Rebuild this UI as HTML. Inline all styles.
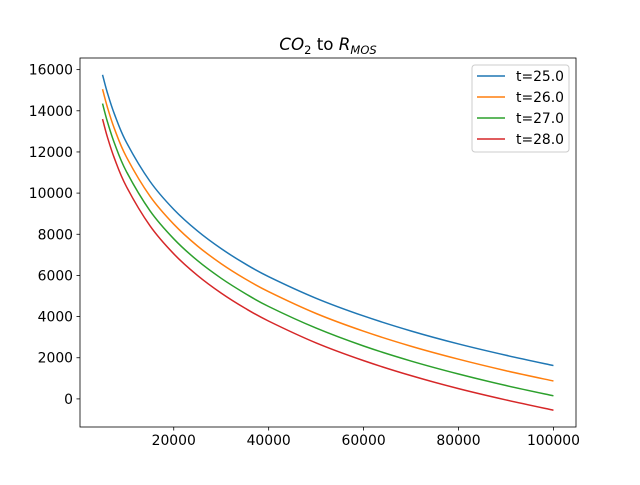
<!DOCTYPE html>
<html><head><meta charset="utf-8"><style>
body{margin:0;background:#fff}
svg text{font-family:"DejaVu Sans","Liberation Sans",sans-serif}
</style></head><body>
<svg id="chart" width="640" height="480" xmlns="http://www.w3.org/2000/svg">
<rect width="640" height="480" fill="#fff"/>
<g id="plot"></g>
</svg>
<script>
const xValues=[5000,6000,7500,10000,15000,20000,25000,30000,35000,40000,50000,60000,70000,80000,90000,100000];
const seriesNames=["t=25.0","t=26.0","t=27.0","t=28.0"];
const seriesT25=[15750,14890,13840,12480,10570,9210,8160,7300,6570,5940,4890,4030,3300,2670,2120,1620];
const seriesT26=[15050,14190,13130,11770,9850,8490,7430,6570,5840,5210,4150,3290,2560,1930,1370,870];
const seriesT27=[14350,13490,12430,11060,9140,7780,6720,5860,5130,4490,3440,2570,1840,1210,650,150];
const seriesT28=[13600,12740,11690,10330,8410,7050,6000,5140,4410,3780,2720,1860,1130,500,-50,-550];
const xTicks=[20000,40000,60000,80000,100000];
const yTicks=[0,2000,4000,6000,8000,10000,12000,14000,16000];
const colors=["#1f77b4","#ff7f0e","#2ca02c","#d62728"];
const allSeries=[seriesT25,seriesT26,seriesT27,seriesT28];

const L=80,R=576,T=58,B=427;
const xmin=250,xmax=104750,ymin=-1365,ymax=16565;
const sx=v=>L+(v-xmin)/(xmax-xmin)*(R-L);
const sy=v=>B-(v-ymin)/(ymax-ymin)*(B-T);
const NS="http://www.w3.org/2000/svg";
const g=document.getElementById('plot');
function mk(tag,attrs,parent){const e=document.createElementNS(NS,tag);for(const k in attrs)e.setAttribute(k,attrs[k]);(parent||g).appendChild(e);return e;}

allSeries.forEach((s,i)=>{
  const p=s.map((v,j)=>[sx(xValues[j]),sy(v)]);
  let d=`M${p[0][0]},${p[0][1]}`;
  for(let j=0;j<p.length-1;j++){
    const p0=p[j-1]||p[j],p1=p[j],p2=p[j+1],p3=p[j+2]||p[j+1];
    const c1=[p1[0]+(p2[0]-p0[0])/6,p1[1]+(p2[1]-p0[1])/6];
    const c2=[p2[0]-(p3[0]-p1[0])/6,p2[1]-(p3[1]-p1[1])/6];
    d+=`C${c1[0]},${c1[1]} ${c2[0]},${c2[1]} ${p2[0]},${p2[1]}`;
  }
  const path=mk('path',{d:d,fill:'none',stroke:colors[i],'stroke-width':1.5});
  
  
});

const frame=mk('rect',{x:L,y:T,width:R-L,height:B-T,fill:'none',stroke:'#000','stroke-width':0.8});



xTicks.forEach(v=>{
  const x=sx(v);
  mk('line',{x1:x,x2:x,y1:B,y2:B+3.5,stroke:'#000','stroke-width':0.8});
  const t=mk('text',{x:x,y:B+18,'text-anchor':'middle','font-size':'13.9px'});
  t.textContent=v;
  
  
});
yTicks.forEach(v=>{
  const y=sy(v);
  mk('line',{x1:L-3.5,x2:L,y1:y,y2:y,stroke:'#000','stroke-width':0.8});
  const t=mk('text',{x:L-7,y:y+5,'text-anchor':'end','font-size':'13.9px'});
  t.textContent=v;
  
  
});

const title=mk('text',{x:328,y:50,'text-anchor':'middle','font-size':'16.7px'});


title.innerHTML='<tspan font-style="italic">CO</tspan><tspan font-size="11.5px" dy="4">2</tspan><tspan dy="-4"> to </tspan><tspan font-style="italic">R</tspan><tspan font-style="italic" font-size="11.5px" dy="4">MOS</tspan>';

const lg=mk('g',{});


mk('rect',{x:472,y:65,width:97,height:87,rx:3,fill:'#fff','fill-opacity':0.8,stroke:'#ccc','stroke-width':1},lg);
seriesNames.forEach((n,i)=>{
  const y=76+i*21;
  const ln=mk('line',{x1:477,x2:505,y1:y,y2:y,stroke:colors[i],'stroke-width':1.5},lg);
  
  
  const t=mk('text',{x:516,y:y+5,'font-size':'13.9px'},lg);
  t.textContent=n;
  
  
});
</script>
</body></html>
